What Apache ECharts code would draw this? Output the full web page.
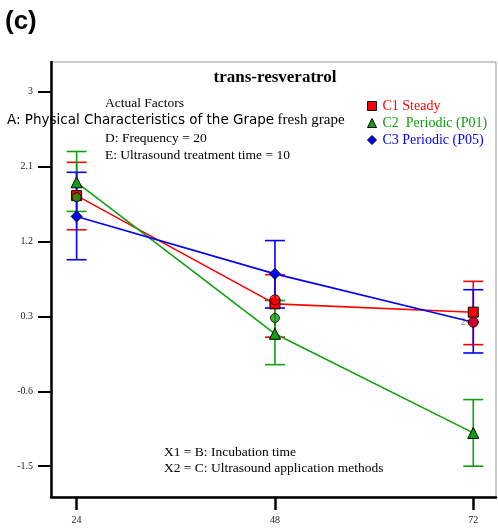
<!DOCTYPE html>
<html><head><meta charset="utf-8">
<script src="https://cdn.jsdelivr.net/npm/echarts@6/dist/echarts.min.js"></script>
<style>html,body{margin:0;padding:0;background:#fff}#c{width:498px;height:528px}</style>
</head><body><div id="c"></div>
<script>
// ---- data ----
const xValues = [24, 48, 72];
const yTicks = [3, 2.1, 1.2, 0.3, -0.6, -1.5];
const seriesNames = ['C1 Steady', 'C2  Periodic (P01)', 'C3 Periodic (P05)'];
const c1Means = [1.75, 0.45, 0.35];
const c1Low = [1.34, 0.05, -0.04];
const c1High = [2.15, 0.80, 0.72];
const c2Means = [1.91, 0.09, -1.10];
const c2Low = [1.56, -0.28, -1.50];
const c2High = [2.28, 0.49, -0.70];
const c3Means = [1.50, 0.81, 0.23];
const c3Low = [0.98, 0.40, -0.14];
const c3High = [2.03, 1.21, 0.62];
// design points (circles)
const c1DesignX = [48, 72];
const c1DesignY = [0.50, 0.23];
const c1DesignCount = ['', '2'];
const c2DesignX = [24, 48];
const c2DesignY = [1.73, 0.28];

const RED = '#ff0000', GREEN = '#10a010', BLUE = '#0000ff';
const colors = [RED, GREEN, BLUE];
const symbols = ['rect', 'triangle', 'diamond'];
const symbolSizes = [10, 11, 11];
const means = [c1Means, c2Means, c3Means];
const lows = [c1Low, c2Low, c3Low];
const highs = [c1High, c2High, c3High];

const chart = echarts.init(document.getElementById('c'));
const SERIF = '"Liberation Serif", "DejaVu Serif", serif';

function errSeries(i) {
  return {
    type: 'custom', z: 1, silent: true,
    data: xValues.map((x, k) => [x, lows[i][k], highs[i][k]]),
    renderItem: function (params, api) {
      const x = api.value(0);
      const p1 = api.coord([x, api.value(2)]);
      const p2 = api.coord([x, api.value(1)]);
      const w = 10;
      const st = { stroke: colors[i], lineWidth: 1.6 };
      return { type: 'group', children: [
        { type: 'line', shape: { x1: p1[0], y1: p1[1], x2: p2[0], y2: p2[1] }, style: st },
        { type: 'line', shape: { x1: p1[0] - w, y1: p1[1], x2: p1[0] + w, y2: p1[1] }, style: st },
        { type: 'line', shape: { x1: p2[0] - w, y1: p2[1], x2: p2[0] + w, y2: p2[1] }, style: st }
      ]};
    }
  };
}
function lineSeries(i) {
  return {
    type: 'line', name: seriesNames[i], z: 3 + i,
    data: xValues.map((x, k) => [x, means[i][k]]),
    symbol: symbols[i], symbolSize: symbolSizes[i],
    lineStyle: { color: colors[i], width: 1.6 },
    itemStyle: { color: colors[i], borderColor: '#000', borderWidth: 1 },
    emphasis: { disabled: true }
  };
}

const option = {
  animation: false,
  grid: { left: 51, right: 2, top: 62, bottom: 31, show: true, borderColor: '#999', borderWidth: 1 },
  xAxis: {
    type: 'value', min: 20.9, max: 74.75,
    splitLine: { show: false },
    axisLine: { onZero: false, lineStyle: { color: '#000', width: 2.5 } },
    axisTick: { customValues: xValues, length: 13, lineStyle: { color: '#000', width: 2.5 } },
    axisLabel: { customValues: xValues, margin: 18, fontFamily: SERIF, fontSize: 10, color: '#222' }
  },
  yAxis: {
    type: 'value', min: -1.87, max: 3.355,
    splitLine: { show: false },
    axisLine: { show: true, onZero: false, lineStyle: { color: '#000', width: 2.5 } },
    axisTick: { show: true, customValues: yTicks, length: 13, lineStyle: { color: '#000', width: 2 } },
    axisLabel: { customValues: yTicks, margin: 18, fontFamily: SERIF, fontSize: 10, color: '#222',
      formatter: v => String(Math.round(v * 10) / 10) }
  },
  legend: {
    orient: 'vertical', left: 362, top: 94, itemGap: 3, itemWidth: 9, itemHeight: 9,
    selectedMode: false,
    textStyle: { fontFamily: SERIF, fontSize: 14, padding: [0, 0, 0, 1] },
    data: seriesNames.map((n, i) => ({
      name: n, icon: symbols[i],
      itemStyle: { color: colors[i], borderColor: '#000', borderWidth: 1 },
      textStyle: { color: colors[i] }
    }))
  },
  graphic: [
    { type: 'text', left: 5, top: 9, style: { text: '(c)', font: 'bold 26px "Liberation Sans", Arial, sans-serif', fill: '#000' } },
    { type: 'text', x: 275, y: 78, style: { text: 'trans-resveratrol', font: 'bold 17px ' + SERIF, fill: '#000', align: 'center', verticalAlign: 'middle' } },
    { type: 'text', x: 105, y: 103, style: { text: 'Actual Factors', font: '13.5px ' + SERIF, fill: '#000', verticalAlign: 'middle' } },
    { type: 'text', x: 7, y: 120, style: {
        text: '{a|A: Physical Characteristics of the Grape} {b|fresh grape}', verticalAlign: 'middle',
        rich: { a: { fontFamily: '"DejaVu Sans", Verdana, sans-serif', fontSize: 13.5, fill: '#000', color: '#000' },
                b: { fontFamily: SERIF, fontSize: 15, fill: '#000', color: '#000' } } } },
    { type: 'text', x: 105, y: 138, style: { text: 'D: Frequency = 20', font: '13.5px ' + SERIF, fill: '#000', verticalAlign: 'middle' } },
    { type: 'text', x: 105, y: 155, style: { text: 'E: Ultrasound treatment time = 10', font: '13.5px ' + SERIF, fill: '#000', verticalAlign: 'middle' } },
    { type: 'text', x: 164, y: 452, style: { text: 'X1 = B: Incubation time', font: '13.5px ' + SERIF, fill: '#000', verticalAlign: 'middle' } },
    { type: 'text', x: 164, y: 468, style: { text: 'X2 = C: Ultrasound application methods', font: '13.5px ' + SERIF, fill: '#000', verticalAlign: 'middle' } }
  ],
  series: [
    errSeries(0), errSeries(1), errSeries(2),
    lineSeries(2), lineSeries(0), lineSeries(1),
    {
      type: 'scatter', z: 7, symbol: 'circle', symbolSize: 10,
      data: c1DesignX.map((x, k) => ({ value: [x, c1DesignY[k]], label: { show: c1DesignCount[k] !== '', formatter: c1DesignCount[k] } })),
      itemStyle: { color: RED, borderColor: '#000', borderWidth: 1 },
      label: { position: 'left', distance: 2, fontSize: 10, color: '#555', fontFamily: SERIF },
      emphasis: { disabled: true }
    },
    {
      type: 'scatter', z: 7, symbol: 'circle', symbolSize: 9,
      data: c2DesignX.map((x, k) => [x, c2DesignY[k]]),
      itemStyle: { color: GREEN, borderColor: '#000', borderWidth: 1 },
      emphasis: { disabled: true }
    }
  ]
};
chart.setOption(option);
</script>
</body></html>
